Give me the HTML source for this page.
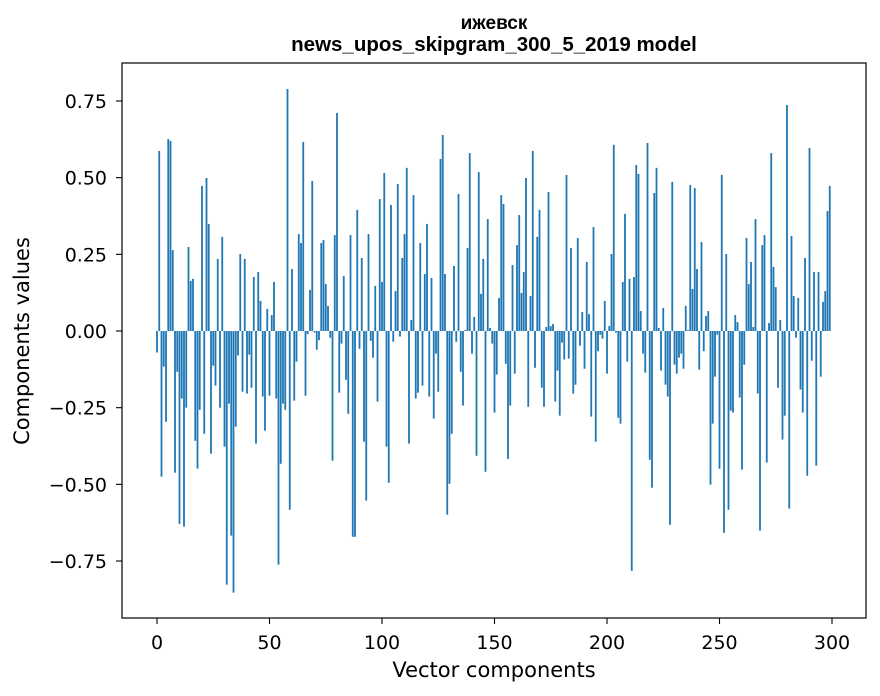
<!DOCTYPE html>
<html><head><meta charset="utf-8"><style>
body{margin:0;background:#fff;}
svg{display:block;font-family:"DejaVu Sans","Liberation Sans",sans-serif;}
</style></head><body>
<svg id="chart" width="880" height="696">
<rect x="0" y="0" width="880" height="696" fill="#fff"/>
<text x="494" y="29" text-anchor="middle" font-size="19" font-weight="bold" font-family="Liberation Sans, sans-serif">ижевск</text>
<text x="494" y="51" text-anchor="middle" font-size="20.5" font-weight="bold" font-family="Liberation Sans, sans-serif">news_upos_skipgram_300_5_2019 model</text>
<g id="bars"></g>
<g id="xaxis"></g>
<g id="yaxis"></g>
<rect x="122" y="63" width="744" height="555" fill="none" stroke="#000" stroke-width="1.2"/>
<text x="494" y="677" text-anchor="middle" font-size="21">Vector components</text>
<text x="29" y="341" text-anchor="middle" font-size="21" transform="rotate(-90 29 341)">Components values</text>
</svg>
<script>
const values = [
-0.07,0.587,-0.475,-0.116,-0.296,0.626,0.62,0.264,-0.462,-0.133,
-0.629,-0.22,-0.638,-0.25,0.274,0.163,0.17,-0.358,-0.449,-0.257,
0.473,-0.335,0.499,0.349,-0.4,-0.113,-0.178,0.235,-0.25,0.307,
-0.377,-0.827,-0.237,-0.667,-0.853,-0.312,-0.08,0.251,-0.198,0.235,
-0.204,-0.077,-0.185,0.176,-0.367,0.192,0.098,-0.214,-0.325,0.072,
-0.211,0.052,0.16,-0.22,-0.762,-0.433,-0.237,-0.257,0.789,-0.583,
0.202,-0.227,-0.1,0.316,0.287,0.616,-0.211,-0.01,0.134,0.489,
-0.005,-0.061,-0.03,0.287,0.297,0.153,0.082,-0.022,-0.423,0.313,
0.711,-0.201,-0.041,0.179,-0.159,-0.27,0.313,-0.671,-0.671,0.395,
-0.058,0.238,-0.361,-0.553,0.316,-0.032,-0.087,0.147,-0.23,0.43,
0.16,0.515,-0.377,-0.495,0.411,-0.035,0.13,0.479,-0.018,0.238,
0.316,0.532,-0.367,0.036,0.443,-0.22,-0.201,0.287,-0.178,0.186,
0.349,-0.214,0.173,-0.286,-0.074,-0.198,0.561,0.639,0.186,-0.599,
-0.498,-0.335,0.212,-0.035,0.447,-0.133,-0.243,0.003,0.271,0.58,
-0.074,0.046,-0.407,0.518,0.121,0.235,-0.459,0.365,0.01,-0.041,
-0.266,-0.142,0.108,0.443,0.414,-0.107,-0.417,-0.243,0.215,-0.139,
0.28,0.378,0.124,0.192,0.499,-0.247,0.114,0.587,-0.12,0.307,
0.395,-0.185,-0.247,0.013,0.453,0.016,0.023,-0.23,-0.129,-0.276,
-0.038,-0.093,0.509,-0.09,0.271,-0.204,-0.175,0.303,-0.048,0.062,
-0.123,0.225,0.055,-0.279,0.339,-0.361,-0.066,-0.012,-0.025,0.098,
-0.139,0.016,0.251,0.607,-0.005,-0.283,-0.302,0.16,0.382,-0.1,
0.17,-0.782,0.176,0.541,0.512,0.065,-0.074,-0.136,0.613,-0.42,
-0.511,0.45,0.532,0.01,-0.129,0.075,-0.175,-0.214,-0.632,0.486,
-0.11,-0.139,-0.087,-0.074,-0.123,0.082,0.003,0.476,0.137,0.466,
0.202,-0.126,0.29,-0.066,0.049,0.065,-0.501,-0.302,-0.149,-0.012,
-0.449,0.509,-0.658,0.251,-0.583,-0.26,-0.266,0.052,0.029,-0.217,
-0.452,-0.11,0.303,0.153,0.225,0.013,0.365,-0.204,-0.651,0.28,
0.313,-0.429,0.026,0.58,0.209,0.143,-0.185,0.036,-0.354,-0.276,
0.737,-0.579,0.31,0.114,-0.022,0.108,-0.191,-0.266,0.238,-0.472,
0.597,-0.097,0.192,-0.439,0.192,-0.149,0.095,0.13,0.391,0.473
];
const xTicks = [0,50,100,150,200,250,300];
const yTicks = [-0.75,-0.5,-0.25,0,0.25,0.5,0.75];
const yTickLabels = ["\u22120.75","\u22120.50","\u22120.25","0.00","0.25","0.50","0.75"];

const NS = "http://www.w3.org/2000/svg";
function xs(v){ return 157 + v*2.25; }
function ys(v){ return 331 - v*306.7; }
const bars = document.getElementById('bars');
values.forEach((v,i)=>{
  const r = document.createElementNS(NS,'rect');
  const y0 = ys(0), y1 = ys(v);
  r.setAttribute('x', xs(i)-0.9);
  r.setAttribute('width', 1.8);
  r.setAttribute('y', Math.min(y0,y1));
  r.setAttribute('height', Math.max(Math.abs(y1-y0),0.3));
  r.setAttribute('fill', '#1f77b4');
  
  
  bars.appendChild(r);
});
const xa = document.getElementById('xaxis');
xTicks.forEach(t=>{
  const l = document.createElementNS(NS,'line');
  l.setAttribute('x1', xs(t)); l.setAttribute('x2', xs(t));
  l.setAttribute('y1', 618); l.setAttribute('y2', 624);
  l.setAttribute('stroke', '#000'); l.setAttribute('stroke-width', 1.1);
  
  
  xa.appendChild(l);
  const tx = document.createElementNS(NS,'text');
  tx.setAttribute('x', xs(t)); tx.setAttribute('y', 649);
  tx.setAttribute('text-anchor', 'middle'); tx.setAttribute('font-size', '19');
  tx.textContent = t;
  
  
  xa.appendChild(tx);
});
const ya = document.getElementById('yaxis');
yTicks.forEach((t,i)=>{
  const l = document.createElementNS(NS,'line');
  l.setAttribute('x1', 116); l.setAttribute('x2', 122);
  l.setAttribute('y1', ys(t)); l.setAttribute('y2', ys(t));
  l.setAttribute('stroke', '#000'); l.setAttribute('stroke-width', 1.1);
  
  
  ya.appendChild(l);
  const tx = document.createElementNS(NS,'text');
  tx.setAttribute('x', 107); tx.setAttribute('y', ys(t)+7);
  tx.setAttribute('text-anchor', 'end'); tx.setAttribute('font-size', '19');
  tx.textContent = yTickLabels[i];
  
  
  ya.appendChild(tx);
});
</script>
</body></html>
